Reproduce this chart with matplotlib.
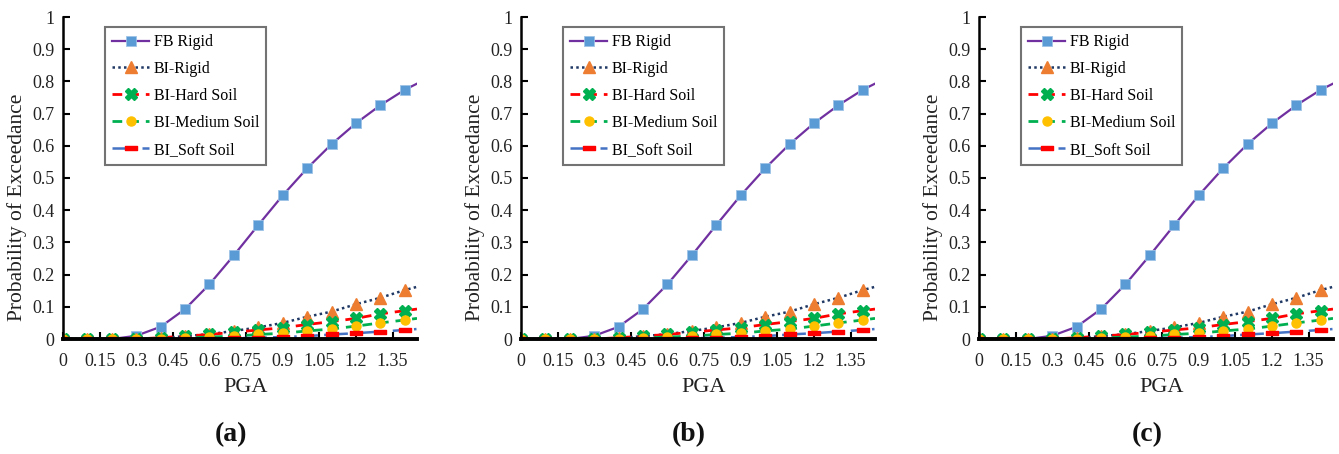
import matplotlib
matplotlib.use("Agg")
import matplotlib.pyplot as plt
from matplotlib.path import Path

plt.rcParams['font.family'] = ['Liberation Serif', 'DejaVu Serif']

# ---- data ----
pga = [0, 0.1, 0.2, 0.3, 0.4, 0.5, 0.6, 0.7, 0.8, 0.9, 1.0, 1.1, 1.2, 1.3, 1.4, 1.45]
fb_rigid = [0, 0, 0, 0.01, 0.038, 0.093, 0.17, 0.26, 0.354, 0.446, 0.53, 0.605, 0.67, 0.726, 0.774, 0.793]
bi_rigid = [0, 0, 0, 0, 0.002, 0.009, 0.015, 0.025, 0.036, 0.05, 0.069, 0.085, 0.108, 0.128, 0.152, 0.162]
bi_hard = [0, 0, 0, 0, 0.004, 0.009, 0.014, 0.021, 0.028, 0.035, 0.045, 0.054, 0.064, 0.078, 0.088, 0.093]
bi_medium = [0, 0, 0, 0, 0.001, 0.003, 0.006, 0.009, 0.014, 0.018, 0.025, 0.031, 0.04, 0.05, 0.059, 0.064]
bi_soft = [0, 0, 0, 0, 0, 0, 0, 0.002, 0.004, 0.006, 0.009, 0.014, 0.018, 0.023, 0.028, 0.031]
labels = ["FB Rigid", "BI-Rigid", "BI-Hard Soil", "BI-Medium Soil", "BI_Soft Soil"]
xticks = [0, 0.15, 0.3, 0.45, 0.6, 0.75, 0.9, 1.05, 1.2, 1.35]
xticklabels = ["0", "0.15", "0.3", "0.45", "0.6", "0.75", "0.9", "1.05", "1.2", "1.35"]
yticks = [0, 0.1, 0.2, 0.3, 0.4, 0.5, 0.6, 0.7, 0.8, 0.9, 1.0]
yticklabels = ["0", "0.1", "0.2", "0.3", "0.4", "0.5", "0.6", "0.7", "0.8", "0.9", "1"]
panel_labels = ["(a)", "(b)", "(c)"]

bar_marker = Path([(-1, -0.38), (1, -0.38), (1, 0.38), (-1, 0.38), (-1, -0.38)],
                  [Path.MOVETO, Path.LINETO, Path.LINETO, Path.LINETO, Path.CLOSEPOLY])

styles = [
    dict(color='#7030A0', ls='-', lw=1.6, marker='s', mfc='#5B9BD5', mec='#9DC3E6', mew=0.6, ms=7),
    dict(color='#1F3864', ls=(0, (1, 1.3)), lw=1.8, marker='^', mfc='#ED7D31', mec='#ED7D31', ms=8),
    dict(color='#FF0000', ls=(0, (3.5, 2.5)), lw=2.0, marker='X', mfc='#00B050', mec='#00B050', ms=8.5),
    dict(color='#00B050', ls=(0, (3.5, 2.5)), lw=2.0, marker='o', mfc='#FFC000', mec='#FFC000', ms=6.5),
    dict(color='#4472C4', ls=(0, (6, 2.5, 1, 2.5)), lw=1.8, marker=bar_marker, mfc='#FF0000', mec='#FF0000', ms=8),
]
series = [fb_rigid, bi_rigid, bi_hard, bi_medium, bi_soft]

W, H = 1339, 454
fig = plt.figure(figsize=(W / 100, H / 100), dpi=100)

lefts = [63, 521, 979]
ax_w, ax_top, ax_bot = 354, 17, 339

for i, left in enumerate(lefts):
    ax = fig.add_axes([left / W, (H - ax_bot) / H, ax_w / W, (ax_bot - ax_top) / H])
    for vals, st, lab in zip(series, styles, labels):
        ax.plot(pga, vals, label=lab, markevery=slice(0, 15), **st)
    ax.set_xlim(0, 1.45)
    ax.set_ylim(0, 1.0)
    ax.set_xticks(xticks)
    ax.set_xticklabels(xticklabels)
    ax.set_yticks(yticks)
    ax.set_yticklabels(yticklabels)
    for s in ['top', 'right']:
        ax.spines[s].set_visible(False)
    ax.spines['left'].set_linewidth(1.8)
    ax.spines['bottom'].set_linewidth(2.8)
    ax.tick_params(axis='both', direction='in', length=5, width=1.5, labelsize=13, colors='black')
    ax.tick_params(axis='x', pad=10)
    ax.tick_params(axis='y', pad=6)
    for t in ax.get_xticklabels() + ax.get_yticklabels():
        t.set_color('#222222')
    leg = ax.legend(loc='upper left', bbox_to_anchor=((105 - 63) / ax_w, (ax_bot - 27) / (ax_bot - ax_top)),
                    borderaxespad=0, fontsize=11.5, frameon=True, fancybox=False, numpoints=1,
                    handlelength=2.3, handletextpad=0.3, labelspacing=0.68, borderpad=0.45)
    leg.get_frame().set_edgecolor('#505050')
    leg.get_frame().set_linewidth(1.5)
    # axis titles
    fig.text((left - 46) / W, 1 - 207 / H, "Probability of Exceedance", rotation=90,
             ha='center', va='center', fontsize=15.5, color='#222222')
    fig.text((left + 183) / W, 1 - 388 / H, "PGA", ha='center', va='center', fontsize=16, color='#222222')
    fig.text((left + 168) / W, 1 - 435 / H, panel_labels[i], ha='center', va='center',
             fontsize=20, fontweight='bold', color='#111111')

fig.savefig("out.png", dpi=100)
